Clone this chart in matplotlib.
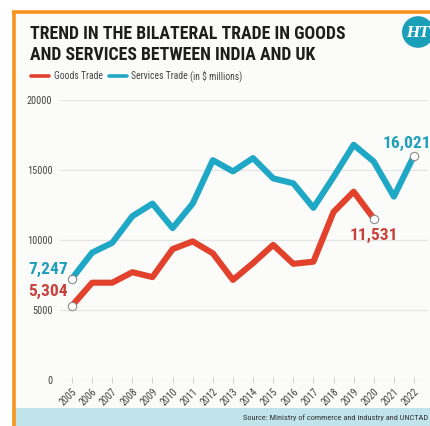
import matplotlib
matplotlib.use("Agg")
import matplotlib.pyplot as plt
from matplotlib import font_manager
from matplotlib.patches import Rectangle, Circle
from matplotlib.lines import Line2D

years = list(range(2005, 2023))
services = [7247, 9100, 9800, 11700, 12600, 10850, 12600, 15700, 14900, 15850,
            14400, 14050, 12300, 14500, 16800, 15600, 13100, 16021]
goods_years = list(range(2005, 2021))
goods = [5304, 6950, 6950, 7700, 7350, 9350, 9900, 9050, 7150, 8350,
         9650, 8300, 8450, 12000, 13450, 11531]
yticks = [0, 5000, 10000, 15000, 20000]

title_lines = ["TREND IN THE BILATERAL TRADE IN GOODS", "AND SERVICES BETWEEN INDIA AND UK"]
source = "Source: Ministry of commerce and industry and UNCTAD"

avail = {f.name for f in font_manager.fontManager.ttflist}
cond = None
for cand in ["Roboto Condensed", "Open Sans Condensed", "Liberation Sans Narrow", "Noto Sans Condensed"]:
    if cand in avail:
        cond = cand
        break
if cond is None:
    cond = "DejaVu Sans"

W, H = 431, 426
fig = plt.figure(figsize=(W / 100, H / 100), dpi=100)
fig.patch.set_facecolor("white")

def fx(px):
    return px / W

def fy(py):
    return 1 - py / H

# chart background
fig.add_artist(Rectangle((fx(14), 0), 1, fy(12), transform=fig.transFigure,
                         facecolor="#fbfbf9", edgecolor="none", zorder=0))
# footer band
fig.add_artist(Rectangle((fx(15), 0), 1, fy(408), transform=fig.transFigure,
                         facecolor="#c1e4eb", edgecolor="none", zorder=1))
# orange border
orange = "#f7941d"
fig.add_artist(Line2D([fx(12), 1], [fy(11.5), fy(11.5)], transform=fig.transFigure,
                      color=orange, lw=2.6, solid_capstyle="butt", zorder=3))
fig.add_artist(Line2D([fx(14), fx(14)], [0, fy(10.5)], transform=fig.transFigure,
                      color=orange, lw=2.6, solid_capstyle="butt", zorder=3))

# title
fig.text(fx(30), fy(39), title_lines[0], family=cond, weight="bold", fontsize=12.8,
         color="#1d1d1d", va="baseline", ha="left")
fig.text(fx(30), fy(60), title_lines[1], family=cond, weight="bold", fontsize=12.8,
         color="#1d1d1d", va="baseline", ha="left")

# HT logo
fig.add_artist(Circle((fx(418), fy(32)), fx(16), transform=fig.transFigure,
                      facecolor="#1a9fb8", edgecolor="none", zorder=4))
fig.text(fx(418), fy(33), "HT", family="DejaVu Serif", style="italic", weight="bold",
         fontsize=10, color="white", ha="center", va="center", zorder=5)

teal = "#1fa8c6"
red = "#e2412c"

# legend
small = 6.9
fig.add_artist(Line2D([fx(31), fx(49)], [fy(76), fy(76)], transform=fig.transFigure,
                      color=red, lw=2.6, solid_capstyle="round"))
fig.text(fx(54), fy(76), "Goods Trade", family=cond, fontsize=small, color="#444444",
         va="center", ha="left")
fig.add_artist(Line2D([fx(109), fx(127)], [fy(76), fy(76)], transform=fig.transFigure,
                      color=teal, lw=2.6, solid_capstyle="round"))
fig.text(fx(131), fy(76), "Services Trade", family=cond, fontsize=small, color="#444444",
         va="center", ha="left")
fig.text(fx(190), fy(76), "(in $ millions)", family=cond, fontsize=small, color="#444444",
         va="center", ha="left")

# axes
ax = fig.add_axes([fx(60), fy(380), fx(428) - fx(60), fy(100) - fy(380)])
ax.set_facecolor("none")
ppy = (414 - 72) / 17
ax.set_xlim(2005 - 12 / ppy, 2022 + 14 / ppy)
ax.set_ylim(0, 20000)
for s in ax.spines.values():
    s.set_visible(False)
ax.set_yticks(yticks)
ax.set_yticklabels([str(v) for v in yticks], family=cond, fontsize=7.4, color="#444444")
ax.tick_params(axis="y", length=0, pad=5.5)
ax.grid(axis="y", color="#e4e4e4", lw=0.9)
ax.set_axisbelow(True)
ax.set_xticks(years)
ax.set_xticklabels([str(y) for y in years], rotation=45, ha="right", va="top",
                   rotation_mode="anchor", family=cond, fontsize=7.2, color="#444444")
ax.tick_params(axis="x", direction="inout", length=5, width=0.7, color="#cfcfcf", pad=2)

ax.plot(years, services, color=teal, lw=4.4, solid_joinstyle="round",
        solid_capstyle="round", clip_on=False, zorder=3)
ax.plot(goods_years, goods, color=red, lw=4.4, solid_joinstyle="round",
        solid_capstyle="round", clip_on=False, zorder=3)
for xs, ys in [(years, services), (goods_years, goods)]:
    ax.plot([xs[0], xs[-1]], [ys[0], ys[-1]], "o", ms=6, mfc="white", mec="#8a8a8a",
            mew=0.8, clip_on=False, zorder=4)

lab_teal = "#1f9fbb"
lab_red = "#c8413a"
def lab(x, y, txt, col, dx, dy, ha):
    ax.annotate(txt, (x, y), xytext=(dx, dy), textcoords="offset pixels", ha=ha,
                va="center", family=cond, weight="bold", fontsize=12.5, color=col,
                annotation_clip=False, zorder=5)

lab(2005, services[0], f"{services[0]:,}", lab_teal, -4, 9, "right")
lab(2005, goods[0], f"{goods[0]:,}", lab_red, -4, 14, "right")
lab(2022, services[-1], f"{services[-1]:,}", lab_teal, -7, 12, "center")
lab(2020, goods[-1], f"{goods[-1]:,}", lab_red, 0, -17, "center")

fig.text(fx(428), fy(418), source, family=cond, fontsize=6.0, color="#333333",
         va="center", ha="right")

fig.savefig("out.png", dpi=100)
